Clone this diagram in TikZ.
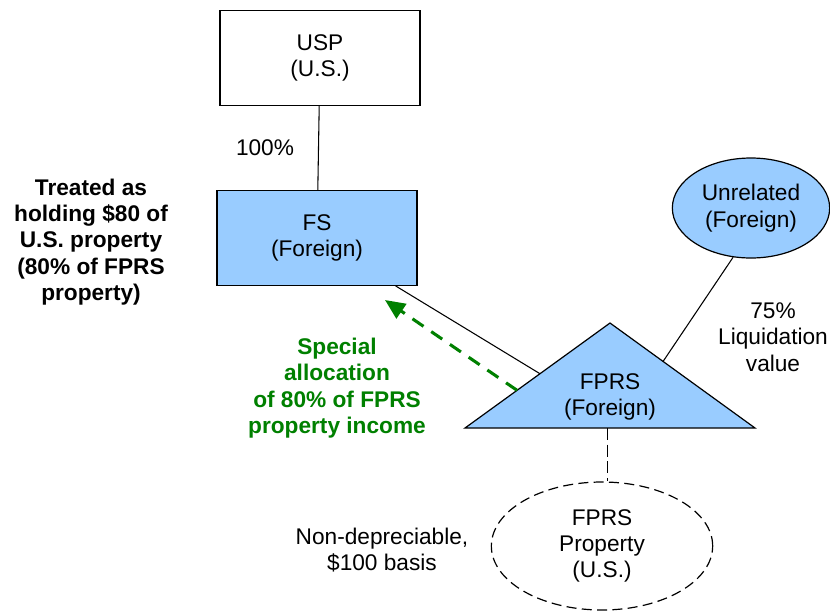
\documentclass[tikz,border=0pt]{standalone}
\usepackage{fontspec}
\setmainfont{Liberation Sans}
\usetikzlibrary{shapes.geometric,arrows.meta,calc}

\definecolor{entityblue}{RGB}{153,204,255}
\definecolor{allocgreen}{RGB}{0,128,0}

\begin{document}
\begin{tikzpicture}[x=0.75pt,y=-0.75pt,
  font=\fontsize{17}{19.8}\selectfont,
  every node/.style={align=center},
  entity/.style={draw, line width=0.9pt, minimum width=150pt, minimum height=71pt, inner sep=0pt},
  partner/.style={draw, ellipse, line width=0.9pt, fill=entityblue, minimum width=118pt, minimum height=75pt, inner sep=0pt},
  link/.style={line width=0.8pt},
  note/.style={font=\fontsize{17}{19.8}\selectfont\bfseries},
  alloc/.style={draw=allocgreen, line width=2.3pt, dash pattern=on 10pt off 7pt,
    -{Triangle[length=15pt,width=13pt,fill=allocgreen]}}]
\useasboundingbox (0,0) rectangle (830,611);
% entities
\node[entity] (usp) at (320,58) {USP\\(U.S.)};
\node[entity, fill=entityblue] (fs) at (317,238) {FS\\(Foreign)};
\node[partner] (unrel) at (751,208) {Unrelated\\(Foreign)};
\node[partner, fill=none, dash pattern=on 7.5pt off 4pt, minimum width=166pt, minimum height=96pt] (prop) at (602,546) {FPRS\\Property\\(U.S.)};
% partnership triangle
\coordinate (fprsL) at (465,428);
\coordinate (fprsA) at (610,323);
\coordinate (fprsR) at (755,428);
\draw[link, line width=0.9pt, fill=entityblue] (fprsL) -- (fprsA) -- (fprsR) -- cycle;
\node (fprs) at (610,397) {FPRS\\(Foreign)};
\coordinate (fprsW) at ($(fprsL)!0.517!(fprsA)$);
\coordinate (fprsE) at ($(fprsA)!0.366!(fprsR)$);
\coordinate (fprsS) at ($(fprsL)!0.49!(fprsR)$);
\coordinate (fprsG) at ($(fprsL)!0.359!(fprsA)$);
\coordinate (allocEnd) at (385,300);
% connectors
\draw[link] (usp) -- (fs);
\draw[link] (fs) -- (fprsW);
\draw[link] (unrel.250) -- (fprsE);
\draw[link, dash pattern=on 9pt off 3.5pt] (fprsS) -- (fprsS |- prop.north);
\draw[alloc] (fprsG) -- (allocEnd);
% labels
\node (own) at (265,148) {100\%};
\node (liq) at (773,337) {75\%\\Liquidation\\value};
\node (basis) at (382,550) {Non-depreciable,\\\$100 basis};
\node[note] (treated) at (91,242) {Treated as\\holding \$80 of\\U.S. property\\(80\% of FPRS\\property)};
\node[note, text=allocgreen] (special) at (337,388) {Special\\allocation\\of 80\% of FPRS\\property income};
\end{tikzpicture}
\end{document}
